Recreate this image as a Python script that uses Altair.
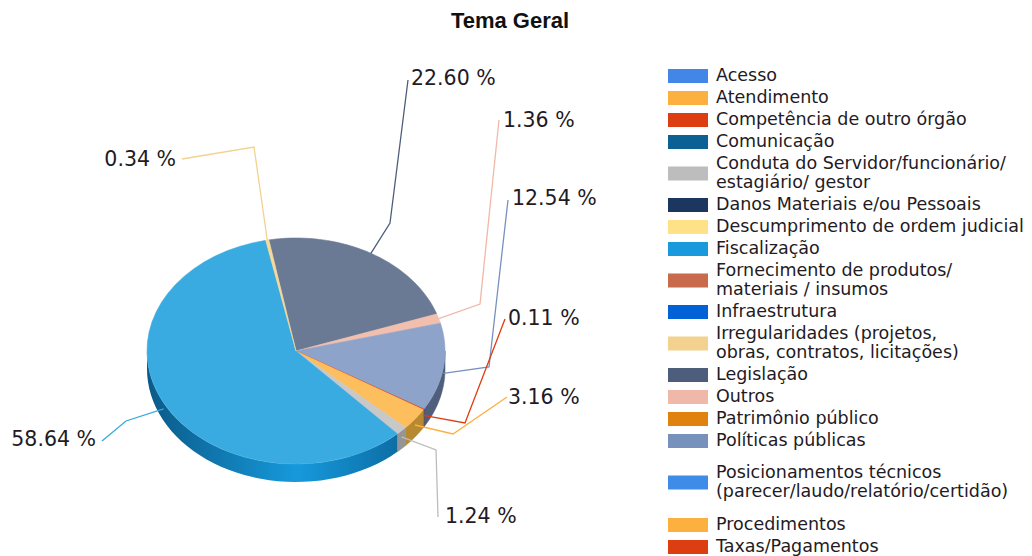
import altair as alt
import pandas as pd

# ---------------- data ----------------
legend_names = [
    "Acesso",
    "Atendimento",
    "Competência de outro órgão",
    "Comunicação",
    "Conduta do Servidor/funcionário/\nestagiário/ gestor",
    "Danos Materiais e/ou Pessoais",
    "Descumprimento de ordem judicial",
    "Fiscalização",
    "Fornecimento de produtos/\nmateriais / insumos",
    "Infraestrutura",
    "Irregularidades (projetos,\nobras, contratos, licitações)",
    "Legislação",
    "Outros",
    "Patrimônio público",
    "Políticas públicas",
    "Posicionamentos técnicos\n(parecer/laudo/relatório/certidão)",
    "Procedimentos",
    "Taxas/Pagamentos",
]
legend_colors = [
    "#4287E8", "#FBB040", "#DC3E12", "#0B6193", "#BDBDBD", "#1B365F",
    "#FFE187", "#1A9ADC", "#C86A4C", "#0062D6", "#F2D28E", "#4C5E7C",
    "#F0B8A8", "#E0830E", "#7791BD", "#3E8BE8", "#FBB040", "#DC3E12",
]

slice_names = [
    "Legislação", "Outros", "Políticas públicas", "Competência de outro órgão",
    "Atendimento", "Conduta", "Fiscalização", "Irregularidades",
]
slice_pcts = [22.60, 1.36, 12.54, 0.11, 3.16, 1.24, 58.64, 0.34]

# ---------------- styles ----------------
top_colors = ["#6B7A94", "#F2BFAF", "#8DA3C9", "#DC3E12", "#FDBE5E", "#C8C8C8", "#3AABE0", "#F5D89A"]
side_colors = ["#3F4D68", "#C99585", "#4E5E7C", "#A03010", "#B88A30", "#959595", "#1680BC", "#C9AE70"]
line_colors = ["#4C5E7C", "#F0B8A8", "#7791BD", "#DC3E12", "#FBB040", "#BDBDBD", "#3AA9DF", "#F2D28E"]

# ---------------- layout ----------------
W, H = 1032, 556
CX, CY, RX, RY, DEPTH = 296, 351, 149, 113, 18
START = -10.5  # degrees, clockwise from top
knee_x = [390, 480, 489, 465, 453, 436, 126, 254]
knee_y = [223, 304, 367, 423, 434, 450, 421, 147]
anchor_x = [408, 499, 508, 505, 507, 438, 102, 182]
anchor_y = [80, 120, 200, 319, 397, 517, 441, 159]
text_x = [411, 503, 512, 508, 508, 445, 96, 176]
text_y = [79, 121, 199, 319, 398, 517, 440, 160]
text_align = ["left", "left", "left", "left", "left", "left", "right", "right"]

FONT = "DejaVu Sans"
TEXT_COLOR = "#231a24"

slices = pd.DataFrame({
    "name": slice_names,
    "pct": slice_pcts,
    "idx": list(range(len(slice_names))),
    "top": top_colors,
    "side": side_colors,
    "lc": line_colors,
    "kx": knee_x, "ky": knee_y,
    "ax": anchor_x, "ay": anchor_y,
    "tx": text_x, "ty": text_y,
    "align": text_align,
})

xs = alt.Scale(domain=[0, W], nice=False, zero=False)
ys = alt.Scale(domain=[0, H], nice=False, zero=False, reverse=True)

base = (
    alt.Chart(slices)
    .transform_joinaggregate(total="sum(pct)")
    .transform_window(cum="sum(pct)", sort=[alt.SortField("idx")], frame=[None, 0])
    .transform_calculate(
        a0=f"({START} + 360 * (datum.cum - datum.pct) / datum.total) * PI / 180",
        a1=f"({START} + 360 * datum.cum / datum.total) * PI / 180",
    )
    .transform_calculate(am="(datum.a0 + datum.a1) / 2")
)

# side wall (front half only)
side_src = (
    base.transform_calculate(
        s0="max(datum.a0, PI / 2)",
        s1="min(datum.a1, 3 * PI / 2)",
    )
    .transform_filter("datum.s1 > datum.s0")
    .transform_calculate(ks="sequence(0, 82)")
    .transform_flatten(["ks"])
    .transform_calculate(
        ang="datum.ks <= 40 ? datum.s0 + (datum.s1 - datum.s0) * datum.ks / 40 : datum.s1 - (datum.s1 - datum.s0) * (datum.ks - 41) / 40",
        px=f"{CX} + {RX} * sin(datum.ang)",
        py=f"{CY} - {RY} * cos(datum.ang) + (datum.ks <= 40 ? 0 : {DEPTH})",
    )
)
enc_poly = dict(
    x=alt.X("px:Q", scale=xs, axis=None),
    y=alt.Y("py:Q", scale=ys, axis=None),
    detail="name:N",
    order="ks:Q",
)
side_other = side_src.transform_filter("datum.name != 'Fiscalização'").mark_line(
    filled=True, interpolate="linear-closed", strokeWidth=0.6
).encode(color=alt.Color("side:N", scale=None), stroke=alt.Stroke("side:N", scale=None), **enc_poly)

side_fisc = side_src.transform_filter("datum.name == 'Fiscalização'").mark_line(
    filled=True, interpolate="linear-closed", strokeWidth=0,
    color=alt.LinearGradient(
        gradient="linear",
        stops=[
            alt.GradientStop(color="#0B5A88", offset=0),
            alt.GradientStop(color="#1699DC", offset=0.6),
            alt.GradientStop(color="#0D6EA5", offset=1),
        ],
        x1=0, x2=1, y1=0, y2=0,
    ),
).encode(**enc_poly)

# top faces
top = (
    base.transform_calculate(ks="sequence(0, 42)")
    .transform_flatten(["ks"])
    .transform_calculate(
        ang="datum.a0 + (datum.a1 - datum.a0) * (datum.ks - 1) / 40",
        px=f"datum.ks == 0 ? {CX} : {CX} + {RX} * sin(datum.ang)",
        py=f"datum.ks == 0 ? {CY} : {CY} - {RY} * cos(datum.ang)",
    )
    .mark_line(filled=True, interpolate="linear-closed", strokeWidth=0.6)
    .encode(color=alt.Color("top:N", scale=None), stroke=alt.Stroke("top:N", scale=None), **enc_poly)
)

# leader lines
leaders = (
    base.transform_calculate(ks="sequence(0, 3)")
    .transform_flatten(["ks"])
    .transform_calculate(
        px=f"datum.ks == 0 ? {CX} + {RX} * sin(datum.am) : (datum.ks == 1 ? datum.kx : datum.ax)",
        py=f"datum.ks == 0 ? {CY} - {RY} * cos(datum.am) + (cos(datum.am) < 0 ? 6 : 0) : (datum.ks == 1 ? datum.ky : datum.ay)",
    )
    .mark_line(strokeWidth=1.3)
    .encode(
        x=alt.X("px:Q", scale=xs, axis=None),
        y=alt.Y("py:Q", scale=ys, axis=None),
        color=alt.Color("lc:N", scale=None),
        detail="name:N",
        order="ks:Q",
    )
)

label_src = base.transform_calculate(lab="format(datum.pct, '.2f') + ' %'")
lab_enc = dict(
    x=alt.X("tx:Q", scale=xs, axis=None),
    y=alt.Y("ty:Q", scale=ys, axis=None),
    text="lab:N",
)
labels_l = label_src.transform_filter("datum.align == 'left'").mark_text(
    align="left", baseline="middle", font=FONT, fontSize=20.5, color=TEXT_COLOR
).encode(**lab_enc)
labels_r = label_src.transform_filter("datum.align == 'right'").mark_text(
    align="right", baseline="middle", font=FONT, fontSize=20.5, color=TEXT_COLOR
).encode(**lab_enc)

# legend (manual)
LEG_X0, LEG_X1, LEG_TX = 668, 708, 716
line_h = 22
two_line_h = 41
y = 76
ys_first, ys_sw = [], []
for i, nm in enumerate(legend_names):
    nlines = nm.count("\n") + 1
    if nm.startswith("Posicionamentos"):
        y += 10
    ys_first.append(y)
    ys_sw.append(y + (nlines - 1) * 19 / 2)
    if nm.startswith("Posicionamentos"):
        y += 52
    else:
        y += line_h if nlines == 1 else two_line_h

leg = pd.DataFrame({
    "name": legend_names,
    "col": legend_colors,
    "yt": ys_first,
    "ysw": ys_sw,
})
leg_base = alt.Chart(leg).transform_calculate(
    x0=str(LEG_X0), x1=str(LEG_X1), xt=str(LEG_TX),
    y0="datum.ysw - 7", y1="datum.ysw + 7",
)
swatches = leg_base.mark_rect().encode(
    x=alt.X("x0:Q", scale=xs, axis=None),
    x2="x1:Q",
    y=alt.Y("y0:Q", scale=ys, axis=None),
    y2="y1:Q",
    color=alt.Color("col:N", scale=None),
)
leg_text = leg_base.mark_text(
    align="left", baseline="middle", font=FONT, fontSize=17.5, color=TEXT_COLOR,
    lineBreak="\n", lineHeight=19,
).encode(
    x=alt.X("xt:Q", scale=xs, axis=None),
    y=alt.Y("yt:Q", scale=ys, axis=None),
    text="name:N",
)

title = alt.Chart(pd.DataFrame({"t": ["Tema Geral"]})).transform_calculate(
    px="510", py="21"
).mark_text(
    align="center", baseline="middle", font="Liberation Sans", fontWeight="bold",
    fontSize=22, color="#111111",
).encode(
    x=alt.X("px:Q", scale=xs, axis=None),
    y=alt.Y("py:Q", scale=ys, axis=None),
    text="t:N",
)

chart = (
    alt.layer(side_other, side_fisc, top, leaders, labels_l, labels_r, swatches, leg_text, title)
    .properties(width=W, height=H, padding=0, autosize=alt.AutoSizeParams(type="none"), background="white")
    .configure_view(stroke=None)
)

chart.save("out.html", embed_options={"renderer": "svg", "actions": False})
